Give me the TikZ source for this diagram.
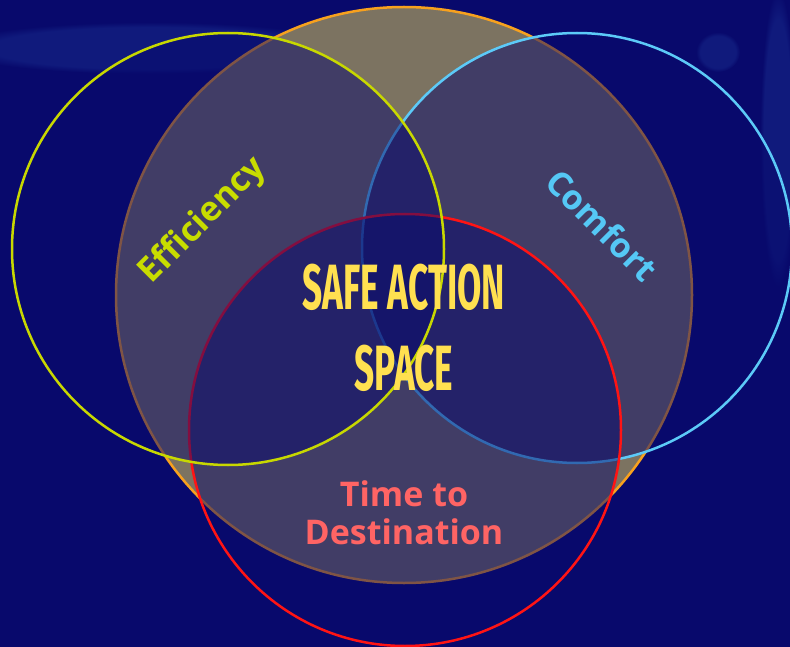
\documentclass[tikz,border=0pt]{standalone}
\usepackage{fontspec}
\setmainfont{Open Sans}
\newfontfamily\headfont{Fira Sans}
\usetikzlibrary{positioning,fadings}

\definecolor{bgnavy}{HTML}{08096C}
\definecolor{haze}{HTML}{3060C0}
\definecolor{sandfill}{HTML}{7C7361}
\definecolor{sandedge}{HTML}{F7A11E}
\definecolor{effgreen}{HTML}{C8D800}
\definecolor{efftext}{HTML}{C8DC00}
\definecolor{comfblue}{HTML}{5CCAF8}
\definecolor{comftext}{HTML}{55C8F5}
\definecolor{timered}{HTML}{FF1414}
\definecolor{timetext}{HTML}{FF6464}
\definecolor{safeyellow}{HTML}{FFE050}

\begin{document}
\begin{tikzpicture}[x=1pt, y=-1pt,
          ring/.style={circle, inner sep=0pt, outer sep=0pt, minimum size=#1, line width=2.5pt, fill=bgnavy, fill opacity=0.5},
          tag/.style={font=\bfseries\fontsize{34}{36}\selectfont, inner sep=0pt},
          safe/.style={text=safeyellow, font=\headfont\bfseries\fontsize{64}{64}\selectfont, xscale=0.55, inner sep=0pt},
          glow/.style={fill=haze, opacity=0.2, path fading=circle with fuzzy edge 20 percent}
        ]
          \useasboundingbox (0,0) rectangle (790,647);
          \clip (0,0) rectangle (790,647);
          \fill[bgnavy] (0,0) rectangle (790,647);

          % soft light in the background
          \fill[glow] (150,48) ellipse [x radius=200pt, y radius=26pt];
          \fill[glow] (718,52) ellipse [x radius=22pt, y radius=20pt];
          \fill[glow] (778,140) ellipse [x radius=18pt, y radius=150pt];

          % the large set and the three goals
          \node[circle, inner sep=0pt, minimum size=576pt, fill=sandfill, draw=sandedge, line width=2.5pt] (space) at (404,295) {};
          \node[ring=430pt, draw=comfblue] (comf) at (577,248) {};
          \node[ring=432pt, draw=timered] (time) at (405,430) {};
          \node[ring=432pt, draw=effgreen] (eff) at (228,249) {};

          \node[tag, text=efftext, rotate=45] (efflabel) at (203,221) {Efficiency};
          \node[tag, text=comftext, rotate=-45] (comflabel) at (602,225) {Comfort};
          \node[tag, text=timetext] (timelabel) at (404,494) {Time to};
          \node[tag, text=timetext] (destlabel) at (404,532) {Destination};

          \node[safe] (safetop) at (404,287) {SAFE ACTION};
          \node[safe] (safebottom) at (404,368) {SPACE};
\end{tikzpicture}
\end{document}
